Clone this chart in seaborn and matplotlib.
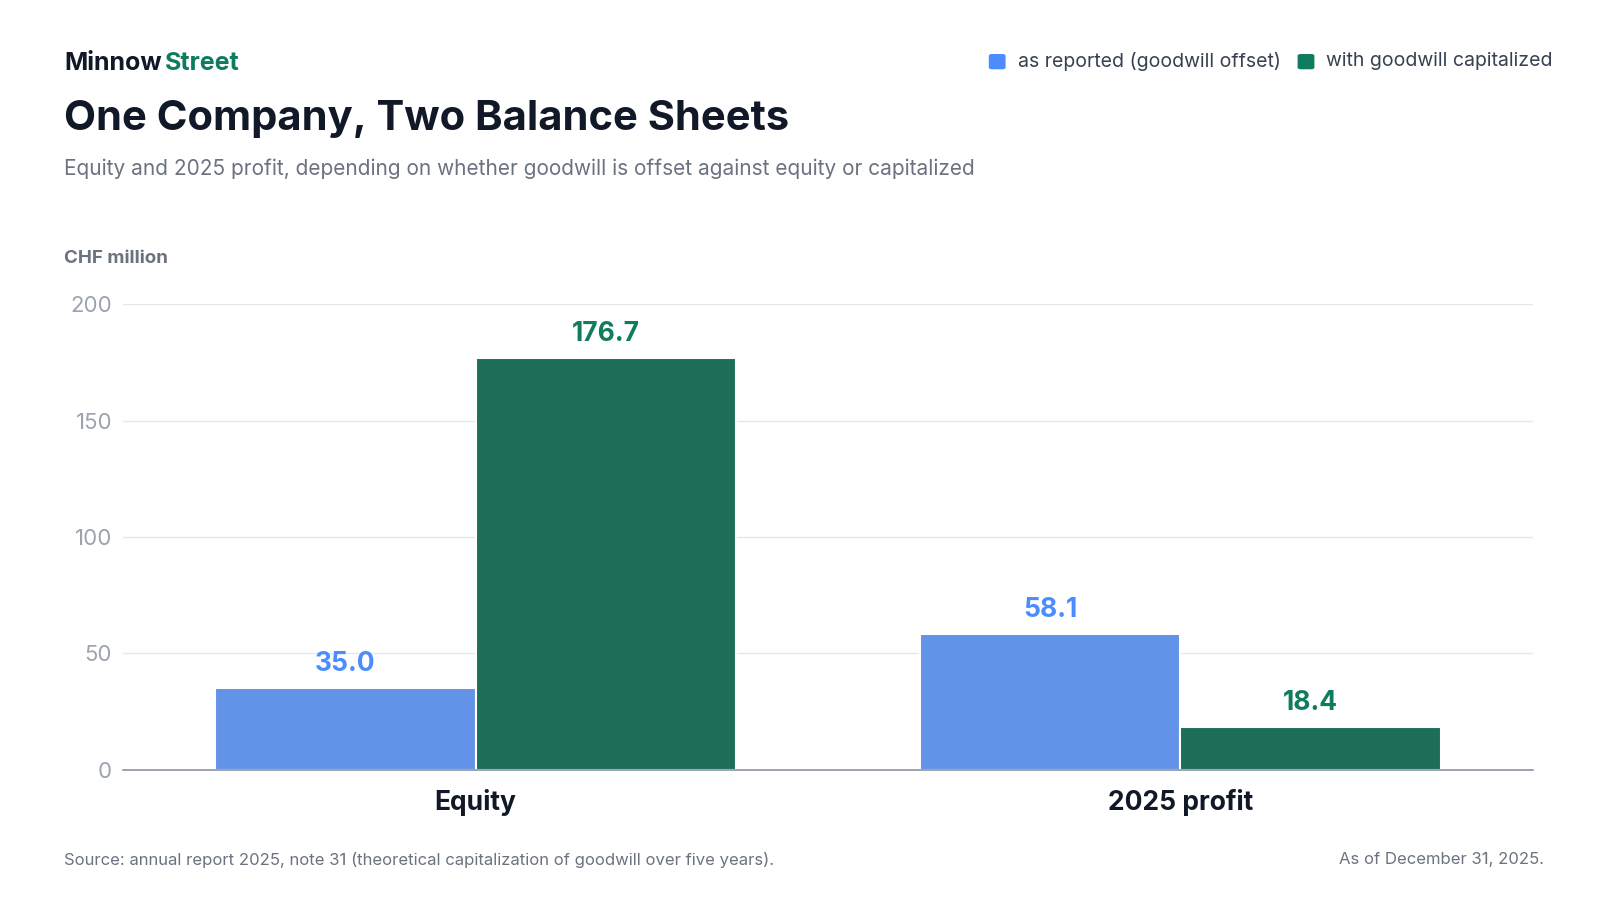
import matplotlib
matplotlib.use("Agg")
import matplotlib.pyplot as plt
import seaborn as sns
import pandas as pd

categories = ["Equity", "2025 profit"]
series = ["as reported (goodwill offset)", "with goodwill capitalized"]
as_reported = [35.0, 58.1]
capitalized = [176.7, 18.4]
yticks = [0, 50, 100, 150, 200]

BLUE = "#4B8DFF"
GREEN = "#0F7B5F"
DARK = "#111827"
GRAY = "#6B7280"
TICK = "#9CA3AF"

sns.set_theme(style="white")
plt.rcParams["font.family"] = ["Inter", "DejaVu Sans"]

df = pd.DataFrame({
    "category": categories * 2,
    "series": [series[0]] * 2 + [series[1]] * 2,
    "value": as_reported + capitalized,
})

fig = plt.figure(figsize=(16, 9), dpi=100)
ax = fig.add_axes([0.077, 0.145, 0.881, 0.517])
sns.barplot(data=df, x="category", y="value", hue="series", order=categories,
            hue_order=series, palette=[BLUE, GREEN], width=0.74, ax=ax,
            edgecolor="white", linewidth=1.5, legend=False, errorbar=None)

for cont, col in zip(ax.containers, [BLUE, GREEN]):
    ax.bar_label(cont, labels=[f"{v:.1f}" for v in cont.datavalues], padding=8,
                 color=col, fontsize=19, fontweight="bold")

ax.set_ylim(0, 200)
ax.set_yticks(yticks)
ax.set_xlim(-0.5, 1.5)
ax.grid(axis="y", color="#E5E7EB", linewidth=1)
ax.set_axisbelow(True)
for s in ["top", "right", "left"]:
    ax.spines[s].set_visible(False)
ax.spines["bottom"].set_color("#8A93A6")
ax.spines["bottom"].set_linewidth(1.2)
ax.tick_params(axis="y", length=0, labelsize=16, labelcolor=TICK, pad=8)
ax.tick_params(axis="x", length=0, labelsize=19, labelcolor=DARK, pad=14)
for t in ax.get_xticklabels():
    t.set_fontweight("bold")
ax.set_xlabel("")
ax.set_ylabel("")

fig.text(0.04, 0.93, "Minnow", fontsize=18, fontweight="bold", color=DARK, va="center")
fig.text(0.103, 0.93, "Street", fontsize=18, fontweight="bold", color=GREEN, va="center")
fig.text(0.04, 0.868, "One Company, Two Balance Sheets", fontsize=30, fontweight="bold",
         color=DARK, va="center")
fig.text(0.04, 0.812, "Equity and 2025 profit, depending on whether goodwill is offset against equity or capitalized",
         fontsize=15, color=GRAY, va="center")
fig.text(0.04, 0.713, "CHF million", fontsize=13.5, fontweight="bold", color=GRAY, va="center")
fig.text(0.04, 0.045, "Source: annual report 2025, note 31 (theoretical capitalization of goodwill over five years).",
         fontsize=12, color=GRAY, va="center")
fig.text(0.965, 0.045, "As of December 31, 2025.", fontsize=12, color=GRAY, va="center", ha="right")

# legend
from matplotlib.patches import FancyBboxPatch
def leg(x, col, label):
    fig.patches.append(FancyBboxPatch((x, 0.923), 0.0105, 0.017, boxstyle="round,pad=0,rounding_size=0.002",
                                      transform=fig.transFigure, facecolor=col, edgecolor="none"))
    fig.text(x + 0.018, 0.932, label, fontsize=14, color="#374151", va="center")
leg(0.618, BLUE, series[0])
leg(0.811, GREEN, series[1])

fig.savefig("out.png", dpi=100, facecolor="white")
